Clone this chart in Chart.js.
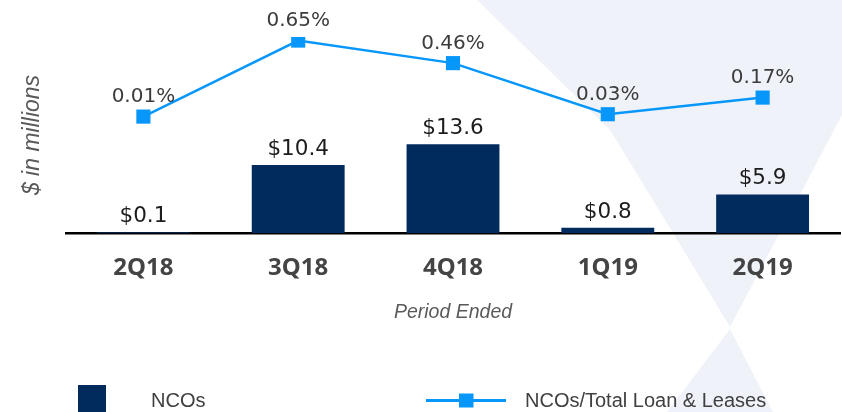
<!DOCTYPE html>
<html><head><meta charset="utf-8">
<script src="https://cdn.jsdelivr.net/npm/chart.js@4.4.1/dist/chart.umd.min.js"></script>
<style>
html,body{margin:0;padding:0;background:#fff;}
#wrap{position:relative;width:842px;height:412px;overflow:hidden;}
.deco{position:absolute;left:0;top:0;width:842px;height:412px;background:#eff3f9;}
#d1{clip-path:polygon(477px 0,842px 0,842px 115px,730px 327px,673px 233px,610px 130px);}
#d2{clip-path:polygon(730px 329px,667px 412px,773px 412px);}
canvas{position:absolute;left:0;top:0;}
</style></head>
<body><div id="wrap"><div class="deco" id="d1"></div><div class="deco" id="d2"></div><canvas id="c" width="842" height="412"></canvas></div>
<script>
const categories = ['2Q18', '3Q18', '4Q18', '1Q19', '2Q19'];
const ncos = [0.1, 10.4, 13.6, 0.8, 5.9];
const ncoRatio = [0.01, 0.65, 0.46, 0.03, 0.17];
const seriesNames = ['NCOs', 'NCOs/Total Loan & Leases'];
const yTitle = '$ in millions';
const xTitle = 'Period Ended';

const BAR_COLOR = '#012b5d';
const LINE_COLOR = '#0797fb';

const valueLabels = {
  id: 'valueLabels',
  afterDatasetsDraw(chart) {
    const ctx = chart.ctx;
    ctx.save();
    ctx.textAlign = 'center';
    ctx.textBaseline = 'alphabetic';
    chart.data.datasets.forEach((ds, di) => {
      const meta = chart.getDatasetMeta(di);
      meta.data.forEach((el, i) => {
        const v = ds.data[i];
        if (ds.type === 'bar') {
          ctx.font = '21.5px "DejaVu Sans"';
          ctx.fillStyle = '#1c1c1c';
          ctx.fillText('$' + v.toFixed(1), el.x, el.y - 10);
        } else {
          ctx.font = '20px "DejaVu Sans"';
          ctx.fillStyle = '#3c3c3c';
          ctx.fillText(v.toFixed(2) + '%', el.x, el.y - 14.5);
        }
      });
    });
    ctx.restore();
  }
};

const customLegend = {
  id: 'customLegend',
  afterDraw(chart) {
    const ctx = chart.ctx;
    const barDs = chart.data.datasets.find(d => d.type === 'bar');
    const lineDs = chart.data.datasets.find(d => d.type === 'line');
    ctx.save();
    ctx.font = '20px "Liberation Sans"';
    ctx.textBaseline = 'alphabetic';
    ctx.textAlign = 'left';
    ctx.fillStyle = barDs.backgroundColor;
    ctx.fillRect(78, 385, 28, 30);
    ctx.fillStyle = '#404040';
    ctx.fillText(barDs.label, 151, 407);
    ctx.strokeStyle = lineDs.borderColor;
    ctx.lineWidth = 3;
    ctx.beginPath();
    ctx.moveTo(426, 400.5);
    ctx.lineTo(506, 400.5);
    ctx.stroke();
    ctx.fillStyle = lineDs.borderColor;
    ctx.fillRect(459, 393.5, 14.5, 14);
    ctx.fillStyle = '#404040';
    ctx.fillText(lineDs.label, 525, 407);
    ctx.restore();
  }
};

new Chart(document.getElementById('c'), {
  data: {
    labels: categories,
    datasets: [
      {
        type: 'line',
        label: seriesNames[1],
        data: ncoRatio,
        yAxisID: 'y2',
        borderColor: LINE_COLOR,
        backgroundColor: LINE_COLOR,
        borderWidth: 2.5,
        pointStyle: 'rect',
        pointRadius: 10,
        pointHoverRadius: 10,
        pointBorderWidth: 0,
        pointBackgroundColor: LINE_COLOR,
        tension: 0,
        order: 0
      },
      {
        type: 'bar',
        label: seriesNames[0],
        data: ncos,
        yAxisID: 'y',
        backgroundColor: BAR_COLOR,
        barPercentage: 0.6,
        categoryPercentage: 1.0,
        order: 1
      }
    ]
  },
  options: {
    responsive: false,
    animation: false,
    layout: { autoPadding: false, padding: { top: 37, right: 2, left: 0, bottom: 87.8 } },
    plugins: { legend: { display: false }, tooltip: { enabled: false } },
    scales: {
      x: {
        offset: true,
        grid: { display: false, drawTicks: false, tickLength: 0 },
        border: { display: true, color: '#000', width: 2.5 },
        ticks: { color: '#444', padding: 21, font: { family: '"Noto Sans"', size: 24, weight: 'bold' } },
        title: { display: true, text: xTitle, color: '#595959', padding: { top: -3, bottom: 0 },
                 font: { family: '"Liberation Sans"', size: 19.5, style: 'italic' } }
      },
      y: {
        position: 'left',
        min: 0, max: 30,
        grid: { display: false, drawTicks: false, tickLength: 0 },
        border: { display: false },
        ticks: { display: false },
        title: { display: true, text: yTitle, color: '#595959', padding: { top: 19.2, bottom: 19.2 },
                 font: { family: '"Liberation Sans"', size: 23, style: 'italic' } }
      },
      y2: {
        position: 'right',
        display: false,
        min: -0.97, max: 0.68
      }
    }
  },
  plugins: [valueLabels, customLegend]
});
</script>
</body></html>
